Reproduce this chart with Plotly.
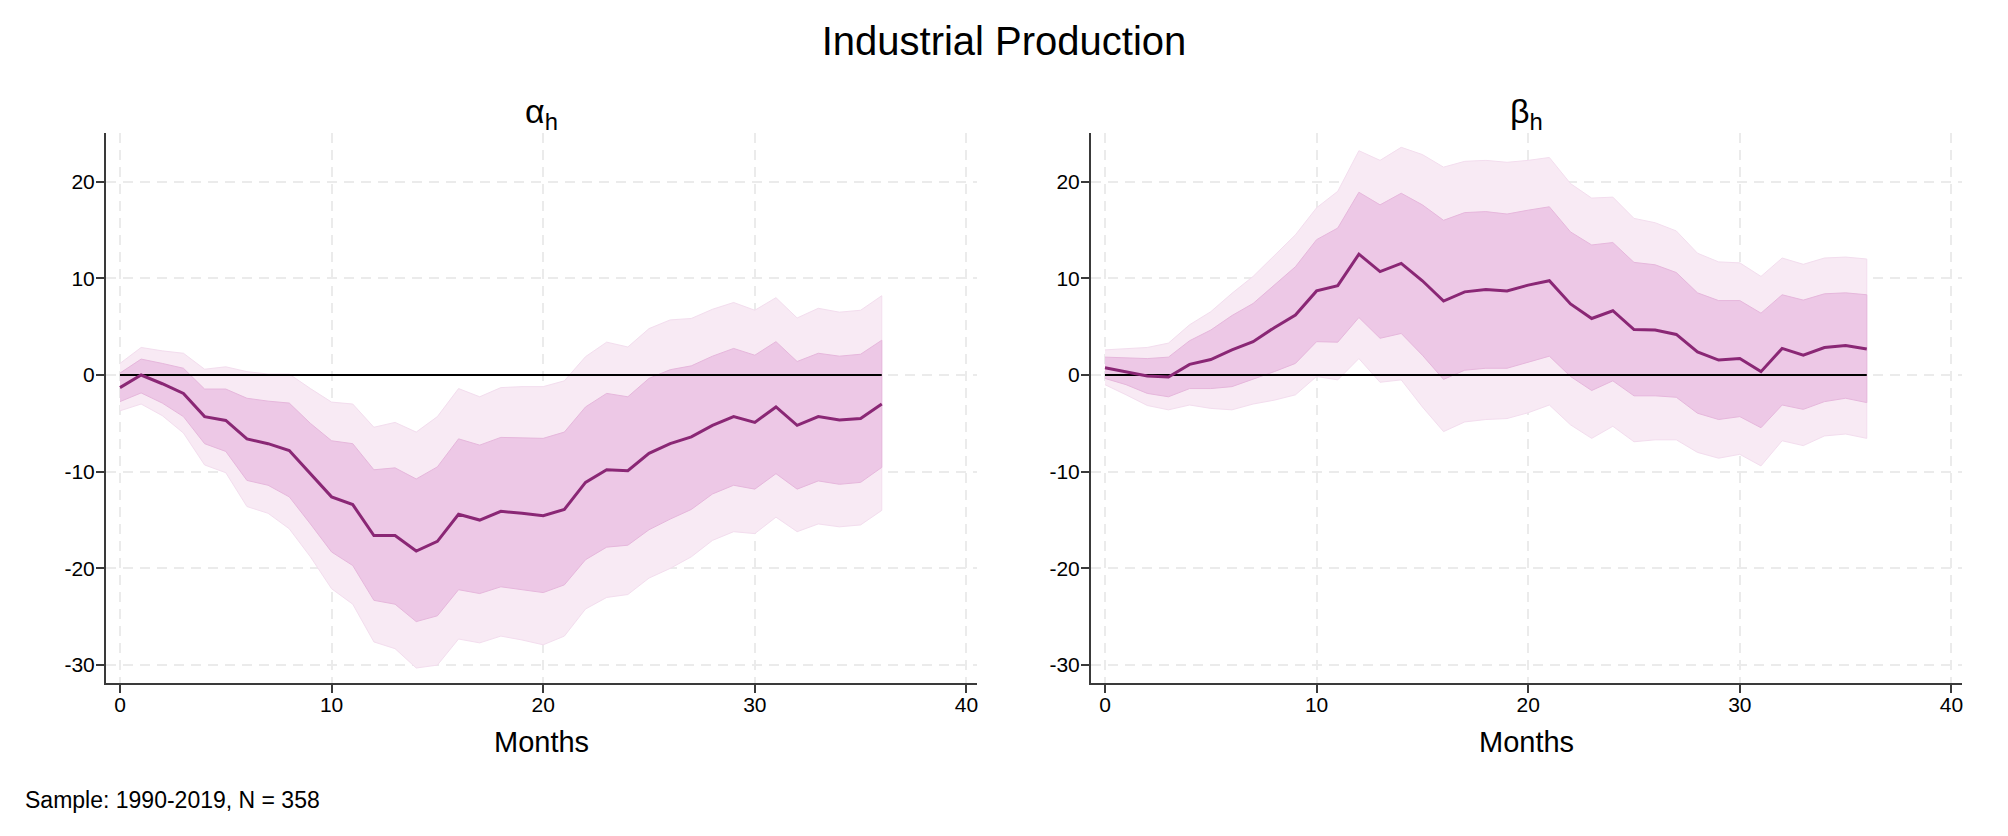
import plotly.graph_objects as go

# ---------------- data ----------------
months = list(range(37))

alpha_est = [-1.3, 0.0, -0.9, -1.9, -4.3, -4.7, -6.6, -7.1, -7.8, -10.2, -12.6, -13.4,
             -16.6, -16.6, -18.2, -17.2, -14.4, -15.0, -14.1, -14.3, -14.55, -13.9,
             -11.1, -9.8, -9.9, -8.1, -7.1, -6.4, -5.2, -4.3, -4.9, -3.3, -5.2, -4.3,
             -4.65, -4.5, -3.0]
alpha_in_hi = [0.2, 1.65, 1.2, 0.7, -1.45, -1.45, -2.4, -2.7, -2.9, -5.0, -6.8, -7.1,
               -9.8, -9.6, -10.75, -9.5, -6.6, -7.25, -6.45, -6.5, -6.55, -5.9, -3.3,
               -1.9, -2.25, -0.35, 0.55, 0.95, 1.95, 2.75, 2.05, 3.45, 1.4, 2.25, 1.95,
               2.15, 3.6]
alpha_in_lo = [-2.75, -1.85, -2.9, -4.3, -7.1, -7.9, -10.9, -11.4, -12.6, -15.4, -18.3,
               -19.7, -23.3, -23.7, -25.5, -24.9, -22.2, -22.6, -21.9, -22.2, -22.5,
               -21.7, -19.1, -17.8, -17.6, -16.0, -14.9, -13.9, -12.3, -11.4, -11.8,
               -10.2, -11.8, -10.95, -11.3, -11.1, -9.55]
alpha_out_hi = [1.2, 2.85, 2.5, 2.25, 0.6, 0.85, 0.35, 0.1, 0.1, -1.4, -2.8, -3.0, -5.4,
                -4.9, -5.9, -4.3, -1.4, -2.25, -1.3, -1.2, -1.2, -0.6, 1.9, 3.4, 2.9,
                4.8, 5.7, 5.85, 6.8, 7.5, 6.7, 8.0, 5.9, 6.9, 6.5, 6.7, 8.2]
alpha_out_lo = [-3.7, -3.0, -4.2, -6.0, -9.3, -10.1, -13.6, -14.3, -15.9, -18.8, -22.1,
                -23.7, -27.6, -28.3, -30.3, -30.0, -27.3, -27.7, -27.0, -27.4, -27.9,
                -27.0, -24.2, -23.0, -22.7, -21.0, -20.0, -18.8, -17.1, -16.2, -16.4,
                -14.7, -16.2, -15.4, -15.7, -15.5, -14.0]

beta_est = [0.75, 0.35, -0.1, -0.2, 1.1, 1.6, 2.6, 3.45, 4.9, 6.2, 8.7, 9.25, 12.5, 10.7,
            11.55, 9.75, 7.65, 8.6, 8.85, 8.7, 9.3, 9.75, 7.35, 5.85, 6.65, 4.7, 4.65,
            4.2, 2.4, 1.55, 1.7, 0.35, 2.75, 2.05, 2.85, 3.05, 2.7]
beta_in_hi = [1.85, 1.75, 1.7, 1.85, 3.55, 4.65, 6.15, 7.4, 9.25, 11.2, 14.0, 15.2, 18.9,
              17.6, 18.8, 17.6, 16.0, 16.8, 16.9, 16.65, 17.05, 17.4, 14.8, 13.45, 13.7,
              11.65, 11.4, 10.6, 8.5, 7.7, 7.7, 6.4, 8.3, 7.75, 8.4, 8.5, 8.3]
beta_in_lo = [-0.35, -1.0, -1.9, -2.25, -1.4, -1.4, -1.2, -0.45, 0.35, 1.2, 3.45, 3.4,
              5.95, 3.8, 4.3, 2.05, -0.45, 0.5, 0.7, 0.7, 1.3, 1.95, -0.15, -1.6, -0.6,
              -2.15, -2.15, -2.3, -3.95, -4.6, -4.3, -5.45, -3.1, -3.55, -2.75, -2.4,
              -2.85]
beta_out_hi = [2.6, 2.7, 2.85, 3.3, 5.2, 6.55, 8.45, 10.2, 12.3, 14.5, 17.3, 19.0, 23.2,
               22.2, 23.55, 22.8, 21.5, 22.1, 22.2, 22.0, 22.2, 22.5, 19.8, 18.3, 18.4,
               16.2, 15.75, 14.9, 12.6, 11.7, 11.6, 10.2, 12.1, 11.45, 12.1, 12.2, 12.0]
beta_out_lo = [-1.0, -2.05, -3.15, -3.6, -3.1, -3.45, -3.6, -3.0, -2.6, -2.05, -0.15,
               -0.5, 1.7, -0.75, -0.5, -3.3, -5.85, -4.85, -4.6, -4.5, -3.9, -3.1, -5.15,
               -6.55, -5.3, -6.9, -6.7, -6.7, -8.0, -8.6, -8.2, -9.4, -6.8, -7.3, -6.3,
               -6.1, -6.55]

zero_line = [0 for _ in months]

x_ticks = [0, 10, 20, 30, 40]
x_tick_labels = ["0", "10", "20", "30", "40"]
y_ticks = [-30, -20, -10, 0, 10, 20]
y_tick_labels = ["-30", "-20", "-10", "0", "10", "20"]

main_title = "Industrial Production"
panel_titles = ["α<sub>h</sub>", "β<sub>h</sub>"]
x_title = "Months"
caption = "Sample: 1990-2019, N = 358"

# ---------------- style ----------------
FONT = "Liberation Sans, Arial, Helvetica, sans-serif"
OUTER_FILL = "#F8EAF4"
OUTER_EDGE = "#F3DDEE"
INNER_FILL = "#EDC8E6"
INNER_EDGE = "#E6B7DC"
LINE_COL = "#8A2775"
GRID_COL = "#EBEBEB"
AXIS_COL = "#3A3A3A"

W, H = 2008, 836
x_domains = [[106 / W, 977 / W], [1091 / W, 1962 / W]]
y_domain = [(H - 683) / H, (H - 133.3) / H]
x_range = [-0.66, 40.5]
y_range = [-31.85, 25.0]

fig = go.Figure()

panels = [
    (alpha_est, alpha_in_hi, alpha_in_lo, alpha_out_hi, alpha_out_lo),
    (beta_est, beta_in_hi, beta_in_lo, beta_out_hi, beta_out_lo),
]

for i, (est, ihi, ilo, ohi, olo) in enumerate(panels):
    xa = "x" if i == 0 else "x2"
    ya = "y" if i == 0 else "y2"
    poly_x = months + months[::-1]
    fig.add_trace(go.Scatter(x=poly_x, y=ohi + olo[::-1], fill="toself",
                             fillcolor=OUTER_FILL, mode="lines",
                             line=dict(color=OUTER_EDGE, width=1),
                             xaxis=xa, yaxis=ya, showlegend=False, hoverinfo="skip"))
    fig.add_trace(go.Scatter(x=poly_x, y=ihi + ilo[::-1], fill="toself",
                             fillcolor=INNER_FILL, mode="lines",
                             line=dict(color=INNER_EDGE, width=1),
                             xaxis=xa, yaxis=ya, showlegend=False, hoverinfo="skip"))
    fig.add_trace(go.Scatter(x=months, y=zero_line, mode="lines",
                             line=dict(color="#000000", width=2),
                             xaxis=xa, yaxis=ya, showlegend=False, hoverinfo="skip"))
    fig.add_trace(go.Scatter(x=months, y=est, mode="lines",
                             line=dict(color=LINE_COL, width=3),
                             xaxis=xa, yaxis=ya, showlegend=False))

axis_common = dict(
    showgrid=True, gridcolor=GRID_COL, gridwidth=1.5, griddash="10px,7px",
    zeroline=False, showline=True, linecolor=AXIS_COL, linewidth=2,
    ticks="outside", ticklen=8, tickwidth=1.5, tickcolor=AXIS_COL,
    tickfont=dict(family=FONT, size=21, color="#000000"),
    automargin=False, fixedrange=True,
)

for i in range(2):
    sx = "" if i == 0 else "2"
    fig.layout["xaxis" + sx] = dict(axis_common, domain=x_domains[i], range=x_range,
                                    tickmode="array", tickvals=x_ticks,
                                    ticktext=x_tick_labels, ticklabelstandoff=-6,
                                    anchor="y" + sx)
    fig.layout["yaxis" + sx] = dict(axis_common, domain=y_domain, range=y_range,
                                    tickmode="array", tickvals=y_ticks,
                                    ticktext=y_tick_labels, ticklabelstandoff=-3,
                                    anchor="x" + sx)

annotations = []
for i in range(2):
    cx = (x_domains[i][0] + x_domains[i][1]) / 2
    annotations.append(dict(text=panel_titles[i], x=cx, y=(H - 114) / H,
                            xref="paper", yref="paper", showarrow=False,
                            xanchor="center", yanchor="middle",
                            font=dict(family=FONT, size=34, color="#000000")))
    annotations.append(dict(text=x_title, x=cx, y=(H - 742) / H,
                            xref="paper", yref="paper", showarrow=False,
                            xanchor="center", yanchor="middle",
                            font=dict(family=FONT, size=29, color="#000000")))
annotations.append(dict(text=caption, x=23 / W, y=(H - 800) / H,
                        xref="paper", yref="paper", showarrow=False,
                        xanchor="left", yanchor="middle",
                        font=dict(family=FONT, size=23, color="#000000")))

fig.update_layout(
    width=W, height=H,
    margin=dict(l=0, r=0, t=0, b=0),
    paper_bgcolor="#FFFFFF", plot_bgcolor="#FFFFFF",
    title=dict(text=main_title, x=0.5, xanchor="center", y=(H - 41) / H,
               yanchor="middle", font=dict(family=FONT, size=40, color="#000000")),
    annotations=annotations,
    showlegend=False,
)

fig.write_html("out.html",
               config={"displayModeBar": False},
               post_script="document.body.style.margin='0';document.body.style.overflow='hidden';")
